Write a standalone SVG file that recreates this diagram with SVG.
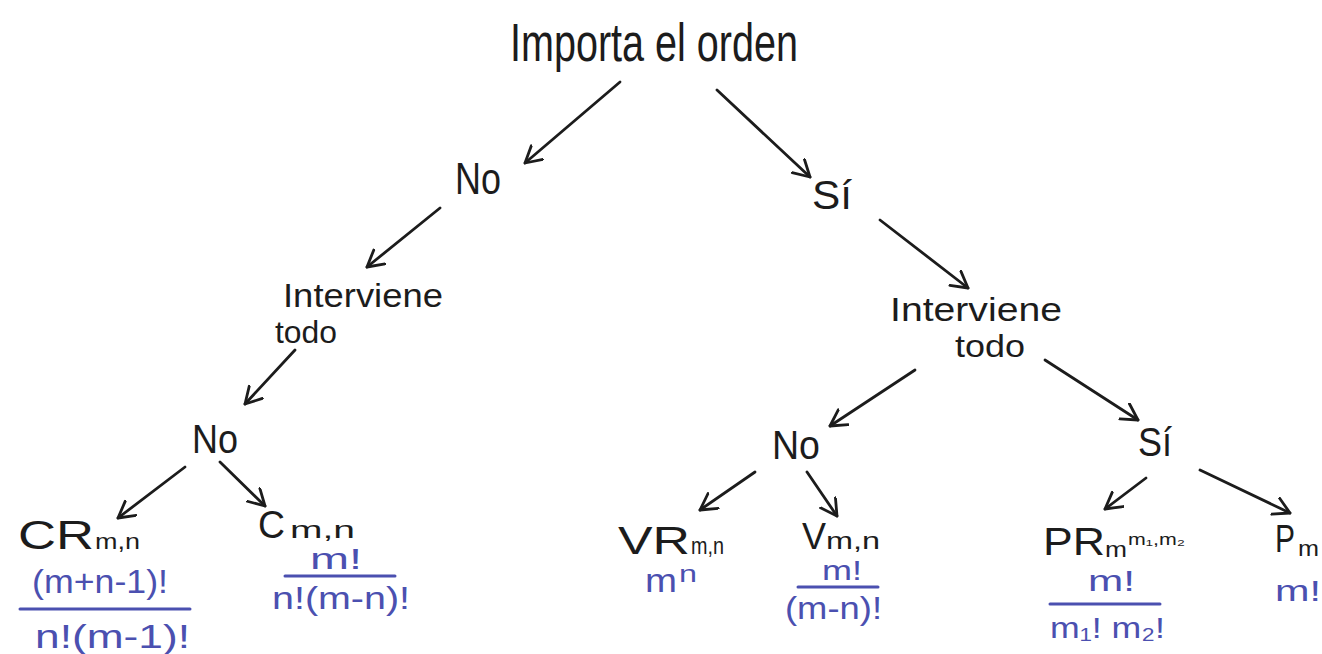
<svg xmlns="http://www.w3.org/2000/svg" width="1322" height="654" viewBox="0 0 1322 654">
<defs>
<marker id="ah" markerUnits="userSpaceOnUse" markerWidth="34" markerHeight="34" refX="17" refY="10" orient="auto">
<path d="M1,1 L17,10 L1,19" fill="none" stroke="#1c1c1c" stroke-width="2.8" stroke-linecap="round" stroke-linejoin="round"/>
</marker>
</defs>
<style>
text{font-family:"Liberation Sans","DejaVu Sans",sans-serif;}
.k{fill:#1c1c1c;}
.b{fill:#4b50b0;}
.c{stroke:#1c1c1c;stroke-width:2.8;fill:none;stroke-linecap:round;marker-end:url(#ah);}
.fl{stroke:#4b50b0;stroke-width:3;stroke-linecap:round;}
</style>
<rect width="1322" height="654" fill="#ffffff"/>
<g id="connectors">
<line class="c" x1="620" y1="82" x2="525" y2="163"/>
<line class="c" x1="717" y1="90" x2="810" y2="177"/>
<line class="c" x1="440" y1="208" x2="367" y2="267"/>
<line class="c" x1="880" y1="220" x2="968" y2="288"/>
<line class="c" x1="295" y1="350" x2="245" y2="404"/>
<line class="c" x1="915" y1="370" x2="830" y2="426"/>
<line class="c" x1="1045" y1="360" x2="1138" y2="420"/>
<line class="c" x1="185" y1="467" x2="118" y2="518"/>
<line class="c" x1="220" y1="462" x2="265" y2="506"/>
<line class="c" x1="755" y1="472" x2="700" y2="510"/>
<line class="c" x1="807" y1="472" x2="837" y2="516"/>
<line class="c" x1="1146" y1="478" x2="1105" y2="509"/>
<line class="c" x1="1200" y1="470" x2="1290" y2="513"/>
</g>
<g id="n-root"><text class="k" x="510" y="61" font-size="54" textLength="288" lengthAdjust="spacingAndGlyphs">Importa el orden</text></g>
<g id="n-no1"><text class="k" x="455" y="194" font-size="44" textLength="46" lengthAdjust="spacingAndGlyphs">No</text></g>
<g id="n-si1"><text class="k" x="812" y="209" font-size="40" textLength="40" lengthAdjust="spacingAndGlyphs">Sí</text></g>
<g id="n-int-left">
<text class="k" x="283" y="307" font-size="33" textLength="160" lengthAdjust="spacingAndGlyphs">Interviene</text>
<text class="k" x="275" y="343" font-size="32" textLength="62" lengthAdjust="spacingAndGlyphs">todo</text>
</g>
<g id="n-int-right">
<text class="k" x="890" y="321" font-size="33" textLength="172" lengthAdjust="spacingAndGlyphs">Interviene</text>
<text class="k" x="955" y="357" font-size="32" textLength="70" lengthAdjust="spacingAndGlyphs">todo</text>
</g>
<g id="n-no2"><text class="k" x="192" y="453" font-size="40" textLength="46" lengthAdjust="spacingAndGlyphs">No</text></g>
<g id="n-no3"><text class="k" x="772" y="459" font-size="40" textLength="48" lengthAdjust="spacingAndGlyphs">No</text></g>
<g id="n-si2"><text class="k" x="1138" y="456" font-size="40" textLength="34" lengthAdjust="spacingAndGlyphs">Sí</text></g>
<g id="n-cr">
<text class="k" x="18" y="549" font-size="40" textLength="76" lengthAdjust="spacingAndGlyphs">CR</text>
<text class="k" x="95" y="549" font-size="22" textLength="45" lengthAdjust="spacingAndGlyphs">m,n</text>
<text class="b" x="32" y="593" font-size="34" textLength="136" lengthAdjust="spacingAndGlyphs">(m+n-1)!</text>
<line class="fl" x1="20" y1="609" x2="190" y2="609"/>
<text class="b" x="35" y="648" font-size="34" textLength="155" lengthAdjust="spacingAndGlyphs">n!(m-1)!</text>
</g>
<g id="n-c">
<text class="k" x="258" y="538" font-size="38" textLength="27" lengthAdjust="spacingAndGlyphs">C</text>
<text class="k" x="290" y="538" font-size="24" textLength="65" lengthAdjust="spacingAndGlyphs">m,n</text>
<text class="b" x="310" y="569" font-size="30" textLength="52" lengthAdjust="spacingAndGlyphs">m!</text>
<line class="fl" x1="285" y1="576" x2="395" y2="576"/>
<text class="b" x="272" y="609" font-size="32" textLength="138" lengthAdjust="spacingAndGlyphs">n!(m-n)!</text>
</g>
<g id="n-vr">
<text class="k" x="618" y="554" font-size="38" textLength="72" lengthAdjust="spacingAndGlyphs">VR</text>
<text class="k" x="691" y="554" font-size="24" textLength="33" lengthAdjust="spacingAndGlyphs">m,n</text>
<text class="b" x="645" y="592" font-size="34" textLength="32" lengthAdjust="spacingAndGlyphs">m</text>
<text class="b" x="679" y="582" font-size="24" textLength="18" lengthAdjust="spacingAndGlyphs">n</text>
</g>
<g id="n-v">
<text class="k" x="802" y="549" font-size="36" textLength="24" lengthAdjust="spacingAndGlyphs">V</text>
<text class="k" x="826" y="549" font-size="24" textLength="54" lengthAdjust="spacingAndGlyphs">m,n</text>
<text class="b" x="822" y="580" font-size="28" textLength="40" lengthAdjust="spacingAndGlyphs">m!</text>
<line class="fl" x1="798" y1="587" x2="878" y2="587"/>
<text class="b" x="785" y="619" font-size="32" textLength="97" lengthAdjust="spacingAndGlyphs">(m-n)!</text>
</g>
<g id="n-pr">
<text class="k" x="1043" y="555" font-size="38" textLength="62" lengthAdjust="spacingAndGlyphs">PR</text>
<text class="k" x="1105" y="557" font-size="22" textLength="22" lengthAdjust="spacingAndGlyphs">m</text>
<text class="k" x="1128" y="545" font-size="17" textLength="57" lengthAdjust="spacingAndGlyphs">m₁,m₂</text>
<text class="b" x="1088" y="591" font-size="30" textLength="47" lengthAdjust="spacingAndGlyphs">m!</text>
<line class="fl" x1="1050" y1="604" x2="1160" y2="604"/>
<text class="b" x="1050" y="638" font-size="30" textLength="115" lengthAdjust="spacingAndGlyphs">m₁! m₂!</text>
</g>
<g id="n-p">
<text class="k" x="1275" y="552" font-size="38" textLength="20" lengthAdjust="spacingAndGlyphs">P</text>
<text class="k" x="1298" y="556" font-size="22" textLength="21" lengthAdjust="spacingAndGlyphs">m</text>
<text class="b" x="1275" y="601" font-size="30" textLength="46" lengthAdjust="spacingAndGlyphs">m!</text>
</g>
</svg>
